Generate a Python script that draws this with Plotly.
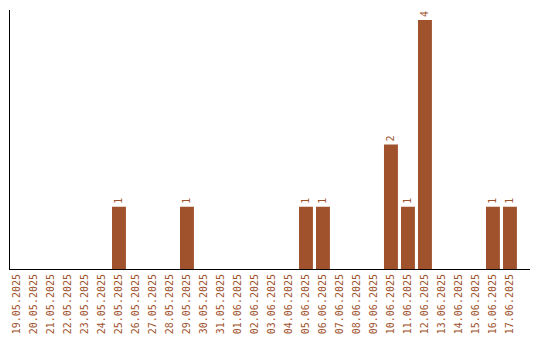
import plotly.graph_objects as go

dates = ["19.05.2025","20.05.2025","21.05.2025","22.05.2025","23.05.2025","24.05.2025",
         "25.05.2025","26.05.2025","27.05.2025","28.05.2025","29.05.2025","30.05.2025",
         "31.05.2025","01.06.2025","02.06.2025","03.06.2025","04.06.2025","05.06.2025",
         "06.06.2025","07.06.2025","08.06.2025","09.06.2025","10.06.2025","11.06.2025",
         "12.06.2025","13.06.2025","14.06.2025","15.06.2025","16.06.2025","17.06.2025"]
counts = [0,0,0,0,0,0,1,0,0,0,1,0,0,0,0,0,0,1,1,0,0,0,2,1,4,0,0,0,1,1]

color = "#A0522D"
labels = [str(v) if v > 0 else "" for v in counts]

fig = go.Figure(go.Bar(
    x=dates, y=counts, marker_color=color, marker_line_width=0,
    text=labels, textposition="outside", textangle=-90,
    textfont=dict(family="DejaVu Sans Mono", size=10, color=color),
    cliponaxis=False,
))
fig.update_layout(
    width=540, height=340,
    margin=dict(l=10, r=10, t=10, b=71),
    plot_bgcolor="white", paper_bgcolor="white",
    bargap=0.18, showlegend=False,
    font=dict(family="DejaVu Sans Mono", size=10, color=color),
)
fig.update_xaxes(type="category", range=[-0.41, 30.18], tickangle=-90, automargin=False,
                 showline=True, linecolor="black", linewidth=1, ticks="",
                 showgrid=False, tickfont=dict(family="DejaVu Sans Mono", size=10, color=color))
fig.update_yaxes(range=[0, 4.16], showline=True, linecolor="black", linewidth=1, automargin=False,
                 showticklabels=False, ticks="", showgrid=False, zeroline=False)
fig.write_html("out.html")
